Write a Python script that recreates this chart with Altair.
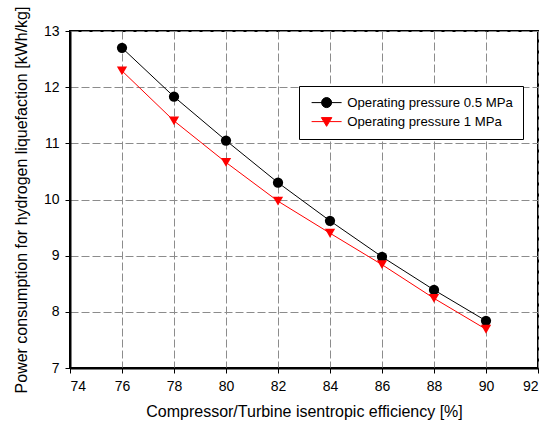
import altair as alt
import pandas as pd

efficiency = [76, 78, 80, 82, 84, 86, 88, 90]
power_05 = [12.70, 11.83, 11.05, 10.30, 9.62, 8.98, 8.39, 7.84]
power_1 = [12.29, 11.40, 10.66, 9.97, 9.40, 8.84, 8.24, 7.69]
series_names = ["Operating pressure 0.5 MPa", "Operating pressure 1 MPa"]
series_colors = ["black", "red"]
series_shapes = ["circle", "triangle-down"]

x_ticks = [74, 76, 78, 80, 82, 84, 86, 88, 90, 92]
y_ticks = [7, 8, 9, 10, 11, 12, 13]

rows = []
for name, vals in zip(series_names, [power_05, power_1]):
    for x, v in zip(efficiency, vals):
        rows.append({"eff": x, "power": v, "series": name})
df = pd.DataFrame(rows)

FONT = "Liberation Sans"
# legend glyphs: short line with the marker on it
PATH_C = "M-3,0L3,0M1,0A1,1,0,1,1,-1,0A1,1,0,1,1,1,0Z"
PATH_T = "M-3,0L3,0M-1.05,-0.8L1.05,-0.8L0,0.95Z"

x_enc = alt.X(
    "eff:Q",
    scale=alt.Scale(domain=[74, 92], nice=False, zero=False),
    axis=alt.Axis(values=x_ticks, title="Compressor/Turbine isentropic efficiency [%]"),
)
y_enc = alt.Y(
    "power:Q",
    scale=alt.Scale(domain=[7, 13], nice=False, zero=False),
    axis=alt.Axis(values=y_ticks, title="Power consumption for hydrogen liquefaction [kWh/kg]"),
)
color_scale = alt.Scale(domain=series_names, range=series_colors)

lines = alt.Chart(df).mark_line(strokeWidth=1).encode(
    x=x_enc, y=y_enc,
    color=alt.Color("series:N", scale=color_scale, legend=None),
)

points = alt.Chart(df).mark_point(filled=True, size=105, opacity=1).encode(
    x=x_enc, y=y_enc,
    color=alt.Color("series:N", scale=color_scale, legend=None),
    shape=alt.Shape("series:N", scale=alt.Scale(domain=series_names, range=series_shapes), legend=None),
)

legend_def = alt.Legend(
    title=None, orient="none", legendX=229, legendY=55,
    symbolFillColor="black", symbolStrokeColor="black", symbolOpacity=1,
)
legend_layer = alt.Chart(df).mark_point(filled=True, size=0, opacity=1).encode(
    x=x_enc, y=y_enc,
    fill=alt.Fill("series:N", scale=alt.Scale(domain=series_names, range=series_colors), legend=legend_def),
    stroke=alt.Stroke("series:N", scale=alt.Scale(domain=series_names, range=series_colors), legend=legend_def),
    shape=alt.Shape("series:N", scale=alt.Scale(domain=series_names, range=[PATH_C, PATH_T]), legend=legend_def),
)

chart = (lines + points + legend_layer).resolve_scale(
    shape="independent", fill="independent", stroke="independent"
).properties(
    width=468, height=337,
    autosize=alt.AutoSizeParams(type="none"),
    padding={"left": 70, "top": 31, "right": 15, "bottom": 57},
).configure_view(
    stroke="black", strokeWidth=2,
).configure_axis(
    labelFont=FONT, titleFont=FONT, labelFontSize=14, titleFontSize=16,
    labelColor="black", titleColor="black", titleFontWeight="normal",
    domainColor="black", domainWidth=2, tickColor="black", tickSize=5, tickWidth=1,
    grid=True, gridColor="#8c8c8c", gridDash=[8, 3], gridWidth=1,
    labelPadding=6,
).configure_axisX(
    titlePadding=10,
).configure_axisY(
    titlePadding=14,
).configure_legend(
    fillColor="white", strokeColor="black", padding=10,
    labelFont=FONT, labelFontSize=13.2, labelColor="black",
    symbolSize=100, symbolOffset=11, labelOffset=14, rowPadding=4,
    symbolStrokeWidth=1, labelLimit=400,
)

chart.save("out.html", embed_options={"renderer": "svg", "actions": False})
